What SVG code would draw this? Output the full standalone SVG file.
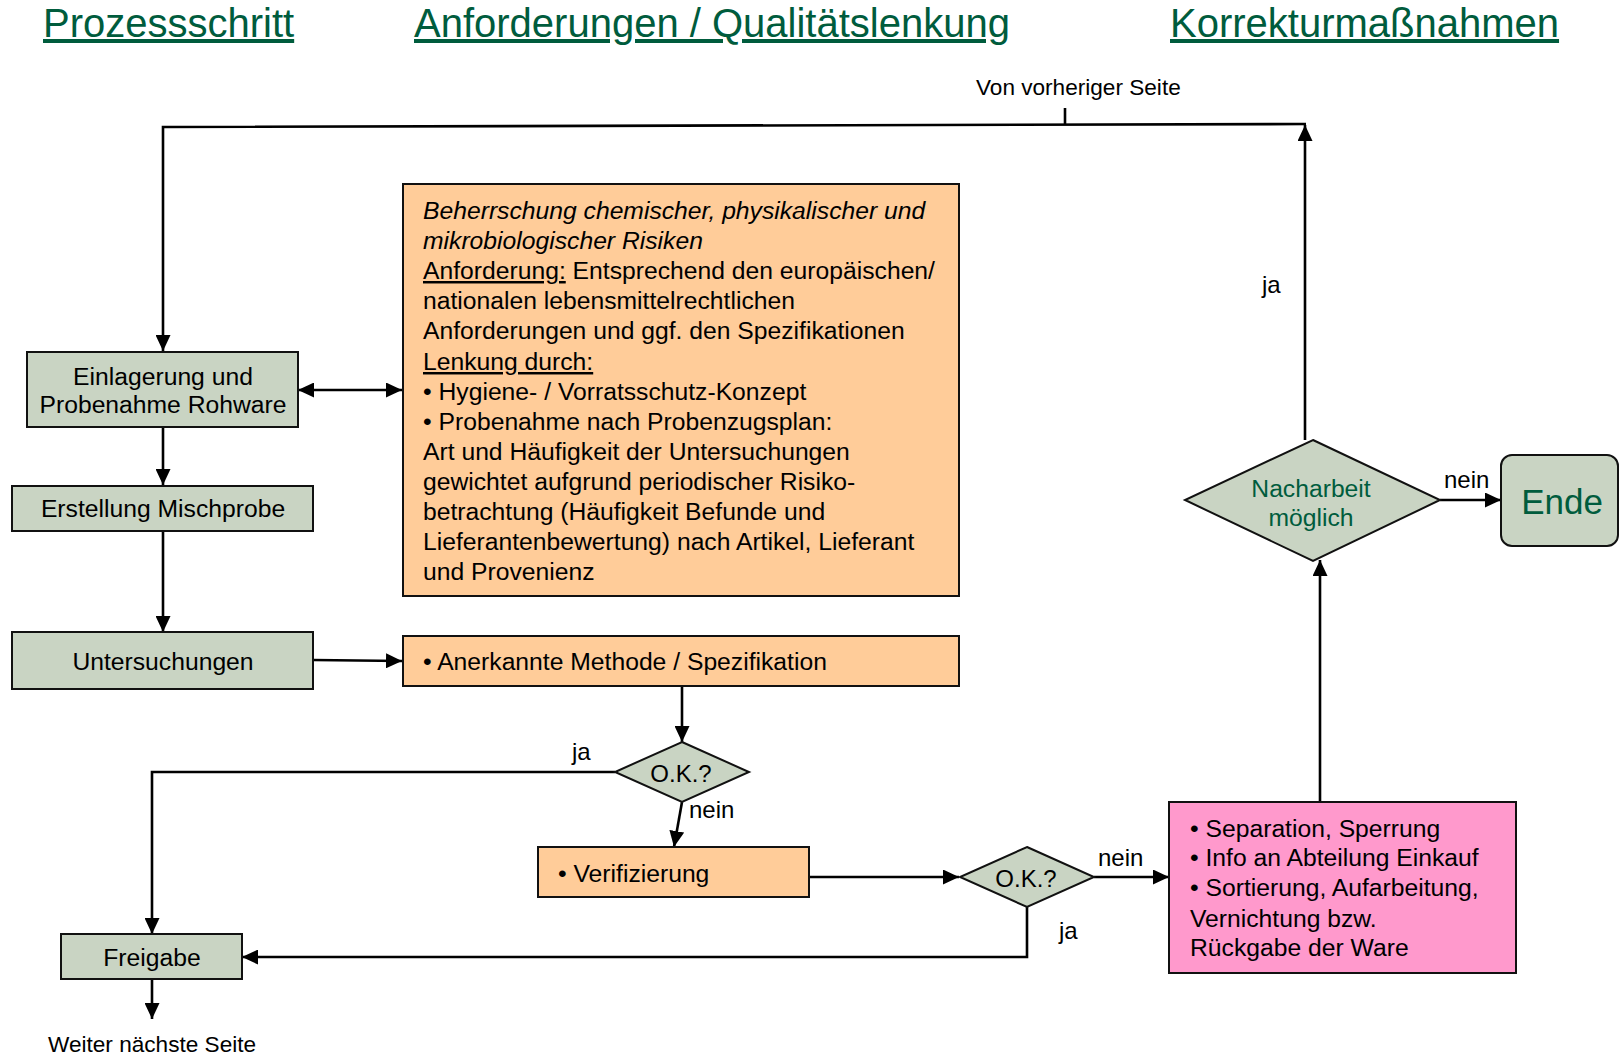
<svg xmlns="http://www.w3.org/2000/svg" width="1620" height="1058" viewBox="0 0 1620 1058">
<style>
text{font-family:"Liberation Sans",Arial,sans-serif;fill:#000}
.hdr{font-size:40px;fill:#005C3D;text-decoration:underline}
.t{font-size:24.7px}
.s{font-size:22.6px}
.l{font-size:24px}
.g{fill:#C9D4C3;stroke:#111;stroke-width:2}
.o{fill:#FFCC99;stroke:#111;stroke-width:2}
.p{fill:#FF99CC;stroke:#111;stroke-width:2}
.c{fill:none;stroke:#000;stroke-width:2.6}
.grn{fill:#005C3D}
.u{text-decoration:underline}
.m{text-anchor:middle}
</style>
<defs>
<marker id="ah" markerUnits="userSpaceOnUse" markerWidth="17" markerHeight="15" refX="16" refY="7.5" orient="auto-start-reverse">
<path d="M0,0 L16,7.5 L0,15 z" fill="#000"/>
</marker>
</defs>
<g id="headers">
<text class="hdr" x="43" y="37">Prozessschritt</text>
<text class="hdr" x="414" y="37">Anforderungen / Qualitätslenkung</text>
<text class="hdr" x="1170" y="37">Korrekturmaßnahmen</text>
</g>
<g id="connectors">
<line class="c" x1="1065" y1="108" x2="1065" y2="124"/>
<polyline class="c" points="1306,124 163,127 163,351" marker-end="url(#ah)"/>
<line class="c" x1="1305" y1="440" x2="1305" y2="125" marker-end="url(#ah)"/>
<line class="c" x1="298" y1="390" x2="402" y2="390" marker-start="url(#ah)" marker-end="url(#ah)"/>
<line class="c" x1="163" y1="427" x2="163" y2="485" marker-end="url(#ah)"/>
<line class="c" x1="163" y1="531" x2="163" y2="632" marker-end="url(#ah)"/>
<line class="c" x1="313" y1="660" x2="402" y2="661" marker-end="url(#ah)"/>
<line class="c" x1="682" y1="686" x2="682" y2="742" marker-end="url(#ah)"/>
<polyline class="c" points="615,772 152,772 152,934" marker-end="url(#ah)"/>
<line class="c" x1="682" y1="802" x2="674" y2="847" marker-end="url(#ah)"/>
<line class="c" x1="809" y1="877" x2="959" y2="877" marker-end="url(#ah)"/>
<line class="c" x1="1094" y1="877" x2="1169" y2="877" marker-end="url(#ah)"/>
<polyline class="c" points="1027,907 1027,957 242,957" marker-end="url(#ah)"/>
<line class="c" x1="152" y1="980" x2="152" y2="1019" marker-end="url(#ah)"/>
<line class="c" x1="1320" y1="802" x2="1320" y2="560" marker-end="url(#ah)"/>
<line class="c" x1="1440" y1="500" x2="1501" y2="500" marker-end="url(#ah)"/>
<text class="s" x="976" y="95">Von vorheriger Seite</text>
<text class="l" x="1262" y="293">ja</text>
<text class="l" x="572" y="760">ja</text>
<text class="l" x="689" y="818">nein</text>
<text class="l" x="1098" y="866">nein</text>
<text class="l" x="1059" y="939">ja</text>
<text class="l" x="1444" y="488">nein</text>
<text class="s" x="48" y="1052">Weiter nächste Seite</text>
</g>
<g id="einlagerung">
<rect class="g" x="27" y="352" width="271" height="75"/>
<text class="t m" x="163" y="385">Einlagerung und</text>
<text class="t m" x="163" y="413">Probenahme Rohware</text>
</g>
<g id="mischprobe">
<rect class="g" x="12" y="486" width="301" height="45"/>
<text class="t m" x="163" y="517">Erstellung Mischprobe</text>
</g>
<g id="untersuchungen">
<rect class="g" x="12" y="632" width="301" height="57"/>
<text class="t m" x="163" y="670">Untersuchungen</text>
</g>
<g id="anforderungen">
<rect class="o" x="403" y="184" width="556" height="412"/>
<text class="t" x="423" y="219" font-style="italic">Beherrschung chemischer, physikalischer und</text>
<text class="t" x="423" y="249" font-style="italic">mikrobiologischer Risiken</text>
<text class="t" x="423" y="279"><tspan class="u">Anforderung:</tspan> Entsprechend den europäischen/</text>
<text class="t" x="423" y="309">nationalen lebensmittelrechtlichen</text>
<text class="t" x="423" y="339">Anforderungen und ggf. den Spezifikationen</text>
<text class="t" x="423" y="370"><tspan class="u">Lenkung durch:</tspan></text>
<text class="t" x="423" y="400">• Hygiene- / Vorratsschutz-Konzept</text>
<text class="t" x="423" y="430">• Probenahme nach Probenzugsplan:</text>
<text class="t" x="423" y="460">Art und Häufigkeit der Untersuchungen</text>
<text class="t" x="423" y="490">gewichtet aufgrund periodischer Risiko-</text>
<text class="t" x="423" y="520">betrachtung (Häufigkeit Befunde und</text>
<text class="t" x="423" y="550">Lieferantenbewertung) nach Artikel, Lieferant</text>
<text class="t" x="423" y="580">und Provenienz</text>
</g>
<g id="methode">
<rect class="o" x="403" y="636" width="556" height="50"/>
<text class="t" x="423" y="670">• Anerkannte Methode / Spezifikation</text>
</g>
<g id="ok1">
<polygon class="g" points="682,742 749,772 682,802 615,772"/>
<text class="l m" x="681" y="782">O.K.?</text>
</g>
<g id="verifizierung">
<rect class="o" x="538" y="847" width="271" height="50"/>
<text class="t" x="558" y="882">• Verifizierung</text>
</g>
<g id="ok2">
<polygon class="g" points="1027,847 1094,877 1027,907 960,877"/>
<text class="l m" x="1026" y="887">O.K.?</text>
</g>
<g id="freigabe">
<rect class="g" x="61" y="934" width="181" height="45"/>
<text class="t m" x="152" y="966">Freigabe</text>
</g>
<g id="korrektur">
<rect class="p" x="1169" y="802" width="347" height="171"/>
<text class="t" x="1190" y="837">• Separation, Sperrung</text>
<text class="t" x="1190" y="866">• Info an Abteilung Einkauf</text>
<text class="t" x="1190" y="896">• Sortierung, Aufarbeitung,</text>
<text class="t" x="1190" y="927">Vernichtung bzw.</text>
<text class="t" x="1190" y="956">Rückgabe der Ware</text>
</g>
<g id="nacharbeit">
<polygon class="g" points="1313,440 1440,500 1313,561 1185,500"/>
<text class="t m grn" x="1311" y="497">Nacharbeit</text>
<text class="t m grn" x="1311" y="526">möglich</text>
</g>
<g id="ende">
<rect class="g" x="1501" y="455" width="117" height="91" rx="11"/>
<text class="m grn" x="1562" y="514" font-size="35">Ende</text>
</g>
</svg>
